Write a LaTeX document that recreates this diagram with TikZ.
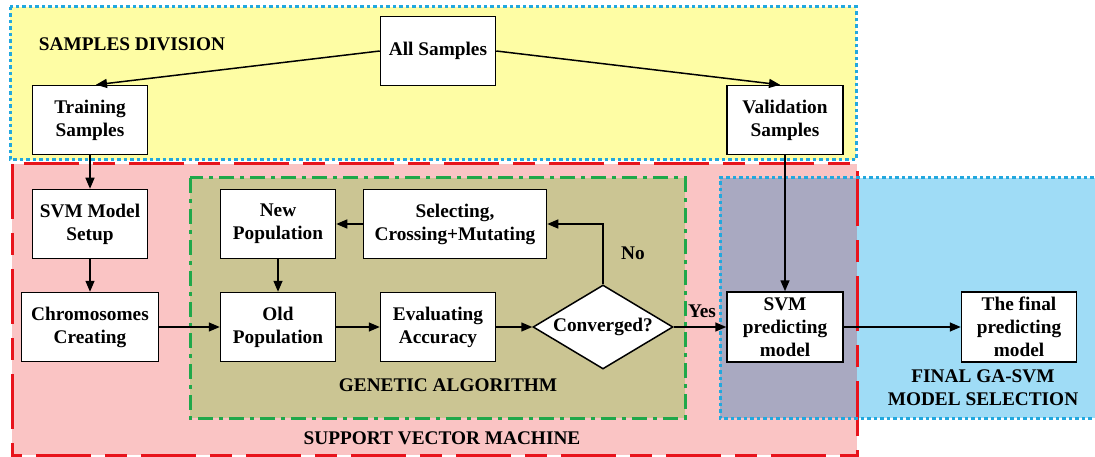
\documentclass[tikz,border=0pt]{standalone}
\usepackage{fontspec}
\setmainfont{Liberation Serif}
\usetikzlibrary{shapes.geometric,arrows.meta}
\definecolor{yelfill}{HTML}{FEFDA4}
\definecolor{cyanb}{HTML}{22A8DE}
\definecolor{pinkfill}{HTML}{FAC4C4}
\definecolor{redb}{HTML}{E8141C}
\definecolor{greenb}{HTML}{1FA84A}
\definecolor{olivefill}{HTML}{CBC593}
\definecolor{bluefill}{HTML}{9FDCF6}
\definecolor{overlapfill}{HTML}{A9A9C1}
\begin{document}
\begin{tikzpicture}[x=1pt,y=-1pt,
  txt/.style={font=\fontsize{19.3}{23}\selectfont\bfseries},
  box/.style={txt, draw, fill=white, line width=1.5pt, minimum width=115pt, minimum height=69pt, inner sep=0pt, align=center},
  lbl/.style={txt, align=center, inner sep=0pt},
  arr/.style={line width=1.5pt, -{Triangle[length=11pt,width=9pt]}},
  bluedot/.style={draw=cyanb, line width=3pt, dash pattern=on 3.5pt off 3pt},
  reddash/.style={draw=redb, line width=3pt, dash pattern=on 55pt off 14pt on 22pt off 14pt},
  greendd/.style={draw=greenb, line width=3pt, dash pattern=on 15pt off 6pt on 4pt off 6pt},
  decision/.style={txt, draw, fill=white, line width=1.5pt, shape=diamond, aspect=1.67, minimum width=140pt, minimum height=84pt, inner sep=0pt}
]
\useasboundingbox (0,0) rectangle (1095,457);
\fill[white] (0,0) rectangle (1095,457);
% regions
\fill[yelfill] (10,7) rectangle (856,160);
\draw[bluedot] (10,7) rectangle (856,160);
\fill[pinkfill] (12,164) rectangle (857,455);
\fill[bluefill] (720,178) rectangle (1100,418);
\fill[overlapfill] (720,178) rectangle (857,418);
\draw[reddash] (12,164) rectangle (857,455);
\draw[bluedot] (1100,178) -- (720,178) -- (720,418) -- (1100,418);
\fill[olivefill] (190,178) rectangle (685,418);
\draw[greendd] (190,178) rectangle (685,418);
% region labels
\node[lbl] (lsd) at (132,44) {SAMPLES DIVISION};
\node[lbl] (lga) at (448,385) {GENETIC ALGORITHM};
\node[lbl] (lsvm) at (442,438) {SUPPORT VECTOR MACHINE};
\node[lbl] (lfin) at (983,388) {FINAL GA-SVM\\MODEL SELECTION};
% nodes
\node[box] (all) at (438,51) {All Samples};
\node[box] (train) at (90,120) {Training\\Samples};
\node[box, minimum width=116pt] (valid) at (785,120) {Validation\\Samples};
\node[box] (setup) at (90,224) {SVM Model\\Setup};
\node[box, minimum width=137pt] (chrom) at (90,327) {Chromosomes\\Creating};
\node[box] (newp) at (278,224) {New\\Population};
\node[box] (oldp) at (278,327) {Old\\Population};
\node[box, minimum width=183pt] (sel) at (455,224) {Selecting,\\Crossing+Mutating};
\node[box] (eval) at (438,327) {Evaluating\\Accuracy};
\node[decision] (conv) at (603,327) {Converged?};
\node[box, minimum width=116pt, minimum height=70pt] (svmp) at (785,327) {SVM\\predicting\\model};
\node[box, minimum height=70pt] (final) at (1019,327) {The final\\predicting\\model};
\node[lbl] (no) at (633,253) {No};
\node[lbl] (yes) at (702,311) {Yes};
% connectors
\draw[arr] (all.west) -- ([xshift=6pt]train.north);
\draw[arr] (all.east) -- ([xshift=-5pt]valid.north);
\draw[arr] (train) -- (setup);
\draw[arr] (setup) -- (setup |- chrom.north);
\draw[arr] (chrom) -- (oldp);
\draw[arr] (newp) -- (oldp);
\draw[arr] (oldp) -- (eval);
\draw[arr] (eval) -- (conv);
\draw[arr] (conv.north) |- (sel.east);
\draw[arr] (sel) -- (newp);
\draw[arr] (conv.east) -- (svmp.west);
\draw[arr] (valid) -- (svmp);
\draw[arr] (svmp) -- (final);
\end{tikzpicture}
\end{document}
